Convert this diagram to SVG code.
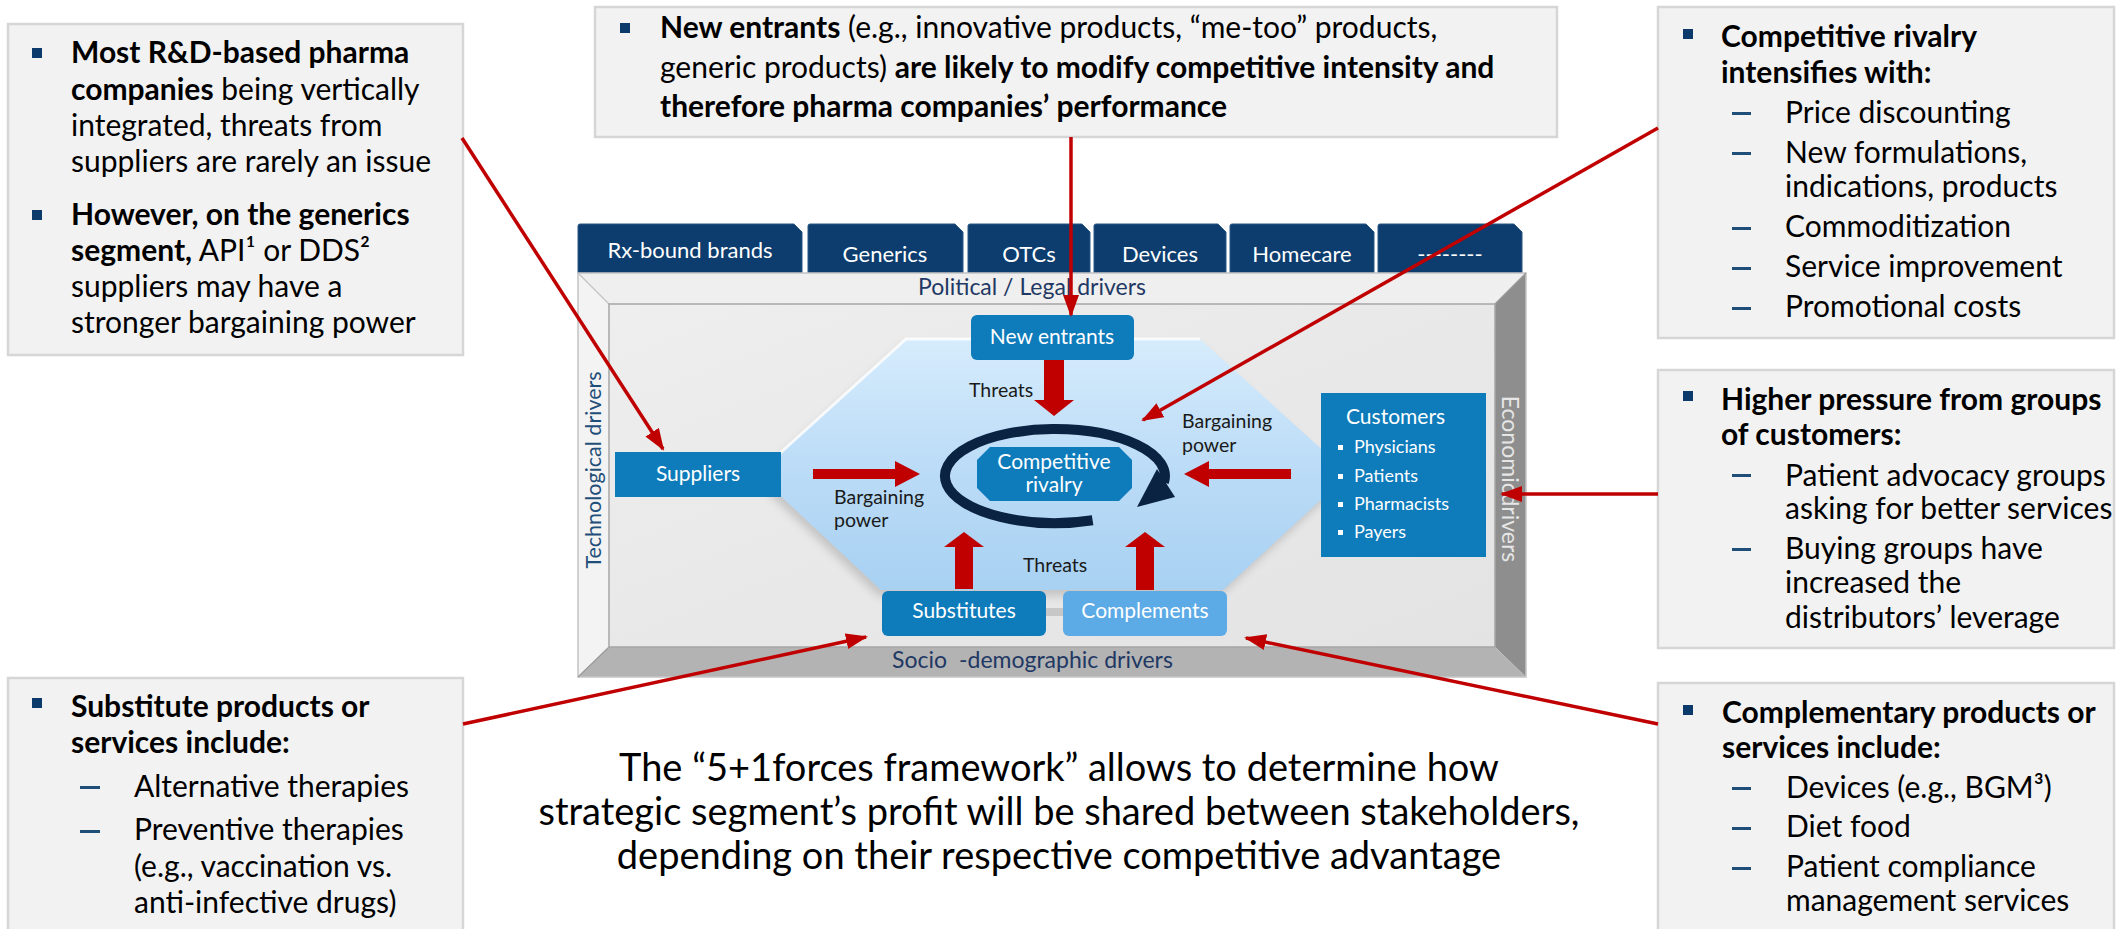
<svg xmlns="http://www.w3.org/2000/svg" width="2119" height="929" viewBox="0 0 2119 929">
<style>
.bx{fill:#f2f2f2;stroke:#d6d6d6;stroke-width:2.5}
.t{font-family:Lato,'Open Sans','Liberation Sans',sans-serif;font-size:30px;fill:#000}
.b{font-weight:bold}
.bul{fill:#0b3a6b}
.dash{stroke:#1f4e79;stroke-width:3}
.tab{fill:#0c3d6e;stroke:#2a5784;stroke-width:1}
.tabt{font-family:Lato,'Open Sans','Liberation Sans',sans-serif;font-size:22px;fill:#fff;text-anchor:middle}
.drv{font-family:Lato,'Open Sans','Liberation Sans',sans-serif;font-size:23px;fill:#1f3864}
.drvT{font-family:Lato,'Open Sans','Liberation Sans',sans-serif;font-size:21.5px;fill:#1f4e79;text-anchor:middle}
.drvE{font-family:Lato,'Open Sans','Liberation Sans',sans-serif;font-size:23px;fill:#e6e6e6;text-anchor:middle}
.node{fill:#0e7bbb}
.nt{font-family:Lato,'Open Sans','Liberation Sans',sans-serif;font-size:21px;fill:#fff;text-anchor:middle}
.ntl{font-family:Lato,'Open Sans','Liberation Sans',sans-serif;font-size:21px;fill:#fff}
.ci{font-family:Lato,'Open Sans','Liberation Sans',sans-serif;font-size:18px;fill:#fff}
.lbl{font-family:Lato,'Open Sans','Liberation Sans',sans-serif;font-size:19.5px;fill:#1a1a1a}
.blk{fill:#c00000}
.con{stroke:#c00000;stroke-width:3.5;fill:none;marker-end:url(#ah)}
.ct{font-family:Lato,'Open Sans','Liberation Sans',sans-serif;font-size:38px;fill:#000;text-anchor:middle}
</style>
<defs>
<marker id="ah" markerUnits="userSpaceOnUse" markerWidth="24" markerHeight="18" refX="20" refY="8" orient="auto">
<path d="M0,0 L22,8 L0,16 Z" fill="#c00000"/>
</marker>
<linearGradient id="hexg" x1="0" y1="0" x2="0" y2="1">
<stop offset="0" stop-color="#d6ecfc"/>
<stop offset="0.5" stop-color="#bcdcf7"/>
<stop offset="1" stop-color="#a8d1f2"/>
</linearGradient>
<linearGradient id="faceg" x1="0" y1="0" x2="1" y2="1">
<stop offset="0" stop-color="#eeeeee"/>
<stop offset="1" stop-color="#e3e3e3"/>
</linearGradient>
<filter id="sh" x="-10%" y="-10%" width="120%" height="130%">
<feGaussianBlur stdDeviation="4"/>
</filter>
</defs>

<rect width="2119" height="929" fill="#ffffff"/>

<!-- Text box: suppliers -->
<g id="box-suppliers">
<rect class="bx" x="8" y="24" width="455" height="331"/>
<rect class="bul" x="32" y="48" width="10" height="10"/>
<text class="t" x="71" y="63"><tspan class="b">Most R&amp;D-based pharma</tspan></text>
<text class="t" x="71" y="100"><tspan class="b">companies</tspan> being vertically</text>
<text class="t" x="71" y="136">integrated, threats from</text>
<text class="t" x="71" y="172">suppliers are rarely an issue</text>
<rect class="bul" x="32" y="210" width="10" height="10"/>
<text class="t" x="71" y="225"><tspan class="b">However, on the generics</tspan></text>
<text class="t" x="71" y="261"><tspan class="b">segment,</tspan> API¹ or DDS²</text>
<text class="t" x="71" y="297">suppliers may have a</text>
<text class="t" x="71" y="333">stronger bargaining power</text>
</g>

<!-- Text box: new entrants -->
<g id="box-new-entrants">
<rect class="bx" x="595" y="7" width="962" height="130"/>
<rect class="bul" x="620" y="23" width="10" height="10"/>
<text class="t" x="660" y="38"><tspan class="b">New entrants</tspan> (e.g., innovative products, “me-too” products,</text>
<text class="t" x="660" y="78">generic products) <tspan class="b">are likely to modify competitive intensity and</tspan></text>
<text class="t" x="660" y="117"><tspan class="b">therefore pharma companies’ performance</tspan></text>
</g>

<!-- Text box: rivalry -->
<g id="box-rivalry">
<rect class="bx" x="1658" y="7" width="456" height="331"/>
<rect class="bul" x="1683" y="29" width="10" height="10"/>
<text class="t b" x="1721" y="47">Competitive rivalry</text>
<text class="t b" x="1721" y="83">intensifies with:</text>
<line class="dash" x1="1732" y1="113.5" x2="1751" y2="113.5"/>
<text class="t" x="1785" y="123">Price discounting</text>
<line class="dash" x1="1732" y1="153.5" x2="1751" y2="153.5"/>
<text class="t" x="1785" y="163">New formulations,</text>
<text class="t" x="1785" y="197">indications, products</text>
<line class="dash" x1="1732" y1="228.5" x2="1751" y2="228.5"/>
<text class="t" x="1785" y="237">Commoditization</text>
<line class="dash" x1="1732" y1="268.5" x2="1751" y2="268.5"/>
<text class="t" x="1785" y="277">Service improvement</text>
<line class="dash" x1="1732" y1="308.5" x2="1751" y2="308.5"/>
<text class="t" x="1785" y="317">Promotional costs</text>
</g>

<!-- Text box: customers -->
<g id="box-customers">
<rect class="bx" x="1658" y="370" width="456" height="278"/>
<rect class="bul" x="1683" y="391" width="10" height="10"/>
<text class="t b" x="1721" y="410">Higher pressure from groups</text>
<text class="t b" x="1721" y="445">of customers:</text>
<line class="dash" x1="1732" y1="475.5" x2="1751" y2="475.5"/>
<text class="t" x="1785" y="486">Patient advocacy groups</text>
<text class="t" x="1785" y="519">asking for better services</text>
<line class="dash" x1="1732" y1="549.5" x2="1751" y2="549.5"/>
<text class="t" x="1785" y="559">Buying groups have</text>
<text class="t" x="1785" y="593">increased the</text>
<text class="t" x="1785" y="628">distributors’ leverage</text>
</g>

<!-- Text box: substitutes -->
<g id="box-substitutes">
<rect class="bx" x="8" y="678" width="455" height="270"/>
<rect class="bul" x="32" y="698" width="10" height="10"/>
<text class="t b" x="71" y="717">Substitute products or</text>
<text class="t b" x="71" y="753">services include:</text>
<line class="dash" x1="80" y1="787.5" x2="100" y2="787.5"/>
<text class="t" x="134" y="797">Alternative therapies</text>
<line class="dash" x1="80" y1="831.5" x2="100" y2="831.5"/>
<text class="t" x="134" y="840">Preventive therapies</text>
<text class="t" x="134" y="877">(e.g., vaccination vs.</text>
<text class="t" x="134" y="913">anti-infective drugs)</text>
</g>

<!-- Text box: complements -->
<g id="box-complements">
<rect class="bx" x="1658" y="683" width="456" height="265"/>
<rect class="bul" x="1683" y="705" width="10" height="10"/>
<text class="t b" x="1722" y="723">Complementary products or</text>
<text class="t b" x="1722" y="758">services include:</text>
<line class="dash" x1="1732" y1="788.5" x2="1751" y2="788.5"/>
<text class="t" x="1786" y="798">Devices (e.g., BGM³)</text>
<line class="dash" x1="1732" y1="828.5" x2="1751" y2="828.5"/>
<text class="t" x="1786" y="837">Diet food</text>
<line class="dash" x1="1732" y1="868.5" x2="1751" y2="868.5"/>
<text class="t" x="1786" y="877">Patient compliance</text>
<text class="t" x="1786" y="911">management services</text>
</g>

<!-- Central text -->
<g id="summary">
<text class="ct" x="1059" y="781">The “5+1forces framework” allows to determine how</text>
<text class="ct" x="1059" y="825">strategic segment’s profit will be shared between stakeholders,</text>
<text class="ct" x="1059" y="869">depending on their respective competitive advantage</text>
</g>

<!-- Segment tabs -->
<g id="tabs">
<path class="tab" d="M578,273 V226 Q578,224 580,224 H794 L802,232 V273 Z"/>
<text class="tabt" x="690" y="258">Rx-bound brands</text>
<path class="tab" d="M808,273 V226 Q808,224 810,224 H955 L963,232 V273 Z"/>
<text class="tabt" x="885" y="262">Generics</text>
<path class="tab" d="M968,273 V226 Q968,224 970,224 H1082 L1090,232 V273 Z"/>
<text class="tabt" x="1029" y="262">OTCs</text>
<path class="tab" d="M1094,273 V226 Q1094,224 1096,224 H1218 L1226,232 V273 Z"/>
<text class="tabt" x="1160" y="262">Devices</text>
<path class="tab" d="M1230,273 V226 Q1230,224 1232,224 H1366 L1374,232 V273 Z"/>
<text class="tabt" x="1302" y="262">Homecare</text>
<path class="tab" d="M1378,273 V226 Q1378,224 1380,224 H1514 L1522,232 V273 Z"/>
<text class="tabt" x="1450" y="262">--------</text>
</g>

<!-- Frame with drivers -->
<g id="frame">
<polygon points="578,273 1526,273 1495,304 609,304" fill="#efefef"/>
<polygon points="578,273 609,304 609,647 578,677" fill="#f3f3f3"/>
<polygon points="1526,273 1526,677 1495,647 1495,304" fill="#8e8e8e"/>
<polygon points="578,677 1526,677 1495,647 609,647" fill="#b3b3b3"/>
<rect x="578" y="273" width="948" height="404" fill="none" stroke="#c4c4c4" stroke-width="1.5"/>
<line x1="578" y1="273" x2="609" y2="304" stroke="#c4c4c4" stroke-width="1.2"/>
<line x1="578" y1="677" x2="609" y2="647" stroke="#9a9a9a" stroke-width="1.2"/>
<line x1="1526" y1="273" x2="1495" y2="304" stroke="#9a9a9a" stroke-width="1.2"/>
<rect x="609" y="304" width="886" height="343" fill="url(#faceg)" stroke="#a6a6a6" stroke-width="1.5"/>
<text class="drv" x="1032" y="295" text-anchor="middle">Political / Legal drivers</text>
<text class="drvT" transform="translate(601,470) rotate(-90)">Technological drivers</text>
<text class="drvE" transform="translate(1502,479) rotate(90)">Economicdrivers</text>
<text class="drv" y="668"><tspan x="892">Socio</tspan><tspan x="959">-demographic drivers</tspan></text>
</g>

<!-- Hexagon arena -->
<g id="arena">
<polygon points="906,339 1200,339 1349,474 1223,590 881,590 757,474" fill="#9a9a9a" opacity="0.45" filter="url(#sh)" transform="translate(-3,6)"/>
<polygon points="906,339 1200,339 1349,474 1223,590 881,590 757,474" fill="url(#hexg)"/>
<polyline points="757,474 906,339 1200,339" fill="none" stroke="#ffffff" stroke-width="3" opacity="0.8"/>
<rect x="1040" y="608" width="26" height="8" fill="#c7c7c7"/>
</g>

<!-- Nodes -->
<g id="node-new-entrants">
<rect class="node" x="971" y="315" width="163" height="45" rx="6"/>
<text class="nt" x="1052" y="344">New entrants</text>
</g>
<g id="node-suppliers">
<rect class="node" x="615" y="452" width="166" height="45"/>
<text class="nt" x="698" y="481">Suppliers</text>
</g>
<g id="node-customers">
<rect class="node" x="1321" y="393" width="165" height="164"/>
<text class="ntl" x="1346" y="424">Customers</text>
<rect x="1338" y="445" width="5" height="5" fill="#fff"/>
<text class="ci" x="1354" y="453">Physicians</text>
<rect x="1338" y="474" width="5" height="5" fill="#fff"/>
<text class="ci" x="1354" y="482">Patients</text>
<rect x="1338" y="502" width="5" height="5" fill="#fff"/>
<text class="ci" x="1354" y="510">Pharmacists</text>
<rect x="1338" y="530" width="5" height="5" fill="#fff"/>
<text class="ci" x="1354" y="538">Payers</text>
</g>
<g id="node-substitutes">
<rect class="node" x="882" y="591" width="164" height="45" rx="6"/>
<text class="nt" x="964" y="618">Substitutes</text>
</g>
<g id="node-complements">
<rect x="1063" y="591" width="164" height="45" rx="6" fill="#5caae6"/>
<text class="nt" x="1145" y="618">Complements</text>
</g>
<g id="node-rivalry">
<path d="M1092.6,520.2 A110,47 0 1 1 1163.9,482.5" fill="none" stroke="#0b2342" stroke-width="10"/>
<polygon points="1137,507 1175,497 1157,469" fill="#0b2342"/>
<polygon class="node" points="990,447 1119,447 1132,460 1132,488 1119,501 990,501 977,488 977,460"/>
<text class="nt" x="1054" y="469">Competitive</text>
<text class="nt" x="1054" y="492">rivalry</text>
</g>

<!-- Force arrows and labels -->
<g id="forces">
<polygon class="blk" points="1044,360 1064,360 1064,400 1074,400 1054,416 1034,400 1044,400"/>
<polygon class="blk" points="813,469 895,469 895,461 920,474 895,487 895,479 813,479"/>
<polygon class="blk" points="1291,469 1209,469 1209,461 1184,474 1209,487 1209,479 1291,479"/>
<polygon class="blk" points="955,589 955,547 944,547 964,532 984,547 973,547 973,589"/>
<polygon class="blk" points="1136,590 1136,547 1125,547 1145,532 1165,547 1154,547 1154,590"/>
<text class="lbl" x="969" y="397">Threats</text>
<text class="lbl" x="834" y="504">Bargaining</text>
<text class="lbl" x="834" y="527">power</text>
<text class="lbl" x="1182" y="428">Bargaining</text>
<text class="lbl" x="1182" y="452">power</text>
<text class="lbl" x="1023" y="572">Threats</text>
</g>

<!-- Connectors -->
<g id="connectors">
<line class="con" x1="462" y1="138" x2="663" y2="449"/>
<line class="con" x1="1071" y1="137" x2="1071" y2="315"/>
<line class="con" x1="1658" y1="128" x2="1143" y2="420"/>
<line class="con" x1="1658" y1="494" x2="1502" y2="494"/>
<line class="con" x1="463" y1="724" x2="866" y2="637"/>
<line class="con" x1="1658" y1="724" x2="1246" y2="638"/>
</g>
</svg>
